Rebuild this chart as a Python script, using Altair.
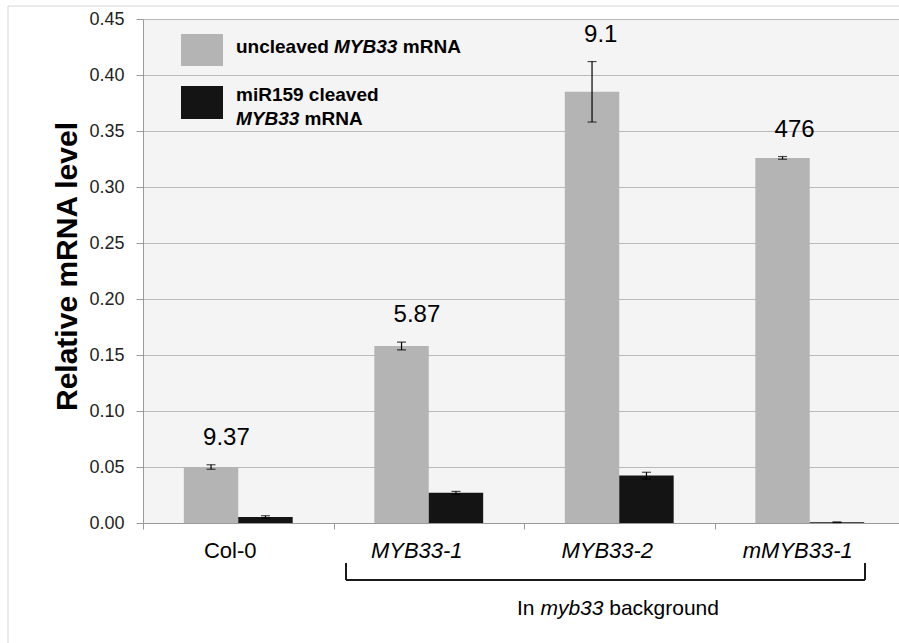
import altair as alt
import pandas as pd

FONT = "Liberation Sans"

# Lines and their measurements (relative mRNA level, mean and error half-width)
groups = ["Col-0", "MYB33-1", "MYB33-2", "mMYB33-1"]
series = ["uncleaved", "cleaved"]
uncleaved = [0.050, 0.158, 0.385, 0.326]
uncleaved_err = [0.002, 0.0035, 0.027, 0.0012]
cleaved = [0.0053, 0.0269, 0.0423, 0.0007]
cleaved_err = [0.0012, 0.0013, 0.003, 0.0003]
ratio_labels = ["9.37", "5.87", "9.1", "476"]
y_ticks = [0.00, 0.05, 0.10, 0.15, 0.20, 0.25, 0.30, 0.35, 0.40, 0.45]

rows = []
for g, u, ue, c, ce, r in zip(groups, uncleaved, uncleaved_err, cleaved, cleaved_err, ratio_labels):
    rows.append(dict(group=g, series="uncleaved", value=u, lo=u - ue, hi=u + ue, ratio=r))
    rows.append(dict(group=g, series="cleaved", value=c, lo=c - ce, hi=c + ce, ratio=""))
df = pd.DataFrame(rows)
cats = pd.DataFrame({"group": groups})

W, H = 756, 504
GREY, BLACK, AXIS = "#b4b4b4", "#141414", "#9a9a9a"

x_enc = alt.X(
    "group:N", sort=groups,
    scale=alt.Scale(domain=groups, range=[0, 762], paddingInner=0, paddingOuter=0),
    axis=alt.Axis(title=None, labels=False, grid=False, domainColor=AXIS,
                  tickColor=AXIS, tickSize=6, tickBand="extent"),
)
x_off = alt.XOffset("series:N", sort=series,
                    scale=alt.Scale(domain=series, paddingInner=0, paddingOuter=0.75))
y_scale = alt.Scale(domain=[0, 0.45], nice=False, zero=True)
y_axis = alt.Axis(
    title="Relative mRNA level", titleFont=FONT, titleFontSize=30, titleFontWeight="bold",
    titleColor="black", titleAngle=-90, titleX=-76, titleY=247, titleAlign="center",
    titleBaseline="middle", values=y_ticks, format=".2f", labelFont=FONT, labelFontSize=18,
    labelColor="#222222", labelPadding=12, tickSize=7, tickColor=AXIS, domainColor=AXIS,
    grid=True, gridColor="#b9b9b9",
)

bars = alt.Chart(df).mark_bar().encode(
    x=x_enc, xOffset=x_off,
    y=alt.Y("value:Q", scale=y_scale, axis=y_axis),
    color=alt.Color("series:N", scale=alt.Scale(domain=series, range=[GREY, BLACK]), legend=None),
)

err_lines = alt.Chart(df).mark_rule(color="black", strokeWidth=1.2).encode(
    x=x_enc, xOffset=x_off,
    y=alt.Y("lo:Q", scale=y_scale, axis=y_axis), y2="hi:Q",
)
cap_lo = alt.Chart(df).mark_tick(color="black", thickness=1.2, size=9).encode(
    x=x_enc, xOffset=x_off, y=alt.Y("lo:Q", scale=y_scale, axis=y_axis),
)
cap_hi = alt.Chart(df).mark_tick(color="black", thickness=1.2, size=9).encode(
    x=x_enc, xOffset=x_off, y=alt.Y("hi:Q", scale=y_scale, axis=y_axis),
)

ratios = alt.Chart(df).transform_filter(alt.datum.series == "uncleaved").mark_text(
    align="left", baseline="alphabetic", dx=-8, dy=-20, font=FONT, fontSize=24, color="black"
).encode(x=x_enc, xOffset=x_off, y=alt.Y("hi:Q", scale=y_scale, axis=y_axis), text="ratio:N")

# category names below the axis: wild type upright, transgenic lines in italics
cat_plain = alt.Chart(cats).transform_filter(alt.datum.group == "Col-0").mark_text(
    baseline="alphabetic", dx=-8, font=FONT, fontSize=22, color="black"
).encode(x=x_enc, y=alt.value(539), text="group:N")
cat_italic = alt.Chart(cats).transform_filter(alt.datum.group != "Col-0").mark_text(
    baseline="alphabetic", dx=-12, font=FONT, fontSize=22, fontStyle="italic", color="black"
).encode(x=x_enc, y=alt.value(539), text="group:N")

one = alt.Data(values=[{}])


def rule(**enc):
    return alt.Chart(one).mark_rule(color="#1a1a1a", strokeWidth=2).encode(**enc)


def label(text, x, y, size, weight="normal", style="normal"):
    return alt.Chart(one).mark_text(
        text=text, align="left", baseline="alphabetic", font=FONT, fontSize=size,
        fontWeight=weight, fontStyle=style, color="black",
    ).encode(x=alt.value(x), y=alt.value(y))


# bracket grouping the lines in the myb33 background
bracket = [
    rule(x=alt.value(203), x2=alt.value(722), y=alt.value(561)),
    rule(x=alt.value(203), y=alt.value(544), y2=alt.value(561)),
    rule(x=alt.value(722), y=alt.value(544), y2=alt.value(561)),
    label("In", 374, 596, 21),
    label("myb33", 397.4, 596, 21, style="italic"),
    label("background", 466.2, 596, 21),
]

# legend
legend = [
    alt.Chart(one).mark_rect(color=GREY).encode(
        x=alt.value(38), x2=alt.value(80), y=alt.value(15), y2=alt.value(47)),
    alt.Chart(one).mark_rect(color=BLACK).encode(
        x=alt.value(38), x2=alt.value(80), y=alt.value(67), y2=alt.value(100)),
    label("uncleaved", 93, 34, 19, weight="bold"),
    label("MYB33", 191, 34, 19, weight="bold", style="italic"),
    label("mRNA", 259.8, 34, 19, weight="bold"),
    label("miR159 cleaved", 93, 82, 19, weight="bold"),
    label("MYB33", 93, 106, 19, weight="bold", style="italic"),
    label("mRNA", 161.6, 106, 19, weight="bold"),
]

# thin page frame
frame = [
    alt.Chart(one).mark_rule(color="#d6d6d6", strokeWidth=1).encode(
        x=alt.value(-135), y=alt.value(-13), y2=alt.value(624)),
    alt.Chart(one).mark_rule(color="#d6d6d6", strokeWidth=1).encode(
        x=alt.value(-135), x2=alt.value(756), y=alt.value(-13)),
]

chart = alt.layer(
    bars, err_lines, cap_lo, cap_hi, ratios, cat_plain, cat_italic,
    *bracket, *legend, *frame,
).properties(
    width=W, height=H,
    padding={"left": 143, "top": 19, "right": 0, "bottom": 120},
    autosize=alt.AutoSizeParams(type="none"),
    background="white",
).configure_view(fill="#f4f4f4", stroke=None)

chart.save("out.html", embed_options={"renderer": "svg", "actions": False})
